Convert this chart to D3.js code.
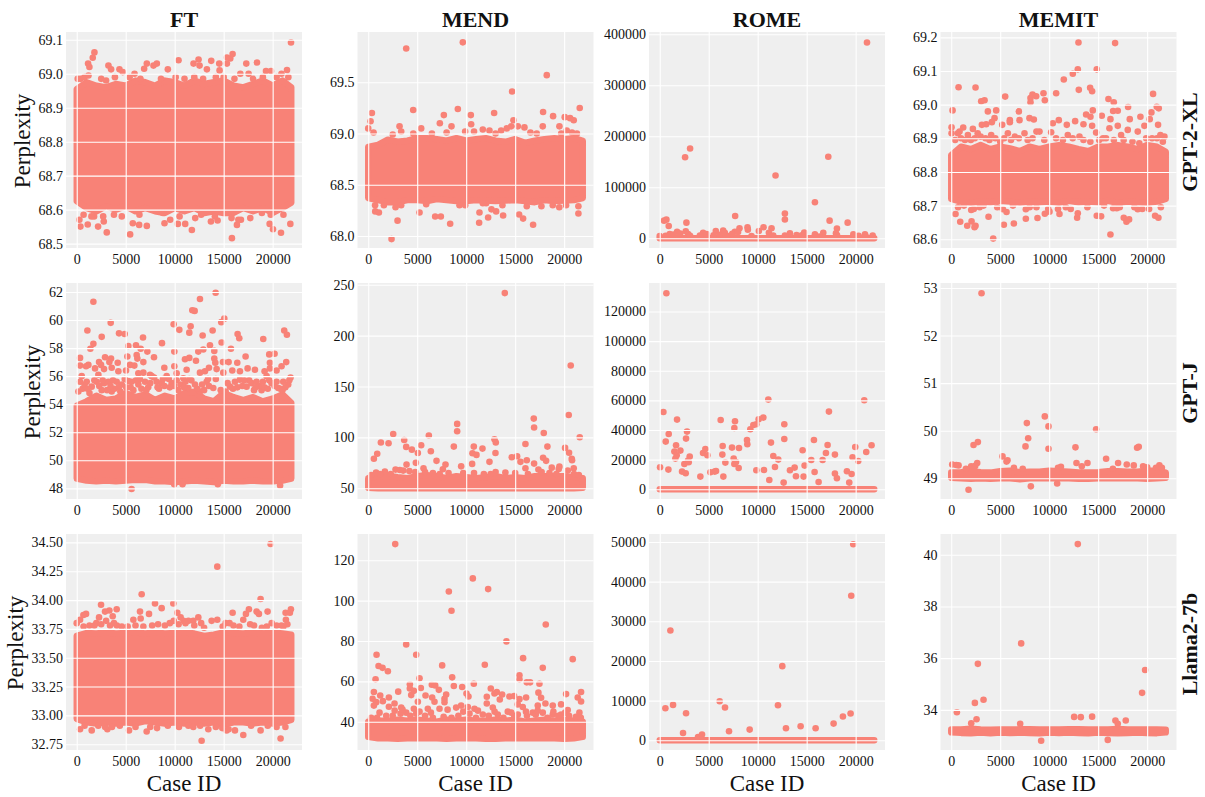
<!DOCTYPE html>
<html><head><meta charset="utf-8">
<script src="https://cdn.jsdelivr.net/npm/d3@7"></script>
<style>html,body{margin:0;padding:0;background:#fff}svg{display:block}text{font-family:"Liberation Serif",serif;fill:#111}</style>
</head><body><div id="chart"></div>
<script>
const methods = ["FT","MEND","ROME","MEMIT"];
const models = ["GPT-2-XL","GPT-J","Llama2-7b"];
const xTicks = [0,5000,10000,15000,20000];
const bandX = [0,1000,2000,3000,4000,5000,6000,7000,8000,9000,10000,11000,12000,13000,14000,15000,16000,17000,18000,19000,20000,21000,21900];

// y tick labels
const ticksFtXl = [68.5,68.6,68.7,68.8,68.9,69.0,69.1];
const ticksMendXl = [68.0,68.5,69.0,69.5];
const ticksRomeXl = [0,100000,200000,300000,400000];
const ticksMemitXl = [68.6,68.7,68.8,68.9,69.0,69.1,69.2];
const ticksFtJ = [48,50,52,54,56,58,60,62];
const ticksMendJ = [50,100,150,200,250];
const ticksRomeJ = [0,20000,40000,60000,80000,100000,120000];
const ticksMemitJ = [49,50,51,52,53];
const ticksFtL = [32.75,33,33.25,33.5,33.75,34,34.25,34.5];
const ticksMendL = [40,60,80,100,120];
const ticksRomeL = [0,10000,20000,30000,40000,50000];
const ticksMemitL = [34,36,38,40];

// dense band edges (read along bandX)
const ftXlTop = [68.955,68.975,68.965,68.96,68.97,68.965,68.98,68.975,68.965,68.98,68.975,68.965,68.98,68.97,68.975,68.98,68.965,68.96,68.97,68.98,68.965,68.98,68.96];
const ftXlBot = [68.625,68.605,68.595,68.61,68.6,68.61,68.595,68.605,68.595,68.59,68.605,68.595,68.605,68.59,68.595,68.59,68.59,68.605,68.595,68.605,68.59,68.605,68.62];
const mendXlTop = [68.87,68.89,68.94,68.92,68.93,68.955,68.955,68.945,68.93,68.955,68.93,68.945,68.955,68.93,68.92,68.945,68.91,68.93,68.945,68.955,68.945,68.955,68.93];
const mendXlBot = [68.37,68.35,68.33,68.33,68.35,68.35,68.34,68.36,68.35,68.34,68.34,68.35,68.345,68.34,68.345,68.35,68.34,68.33,68.35,68.34,68.345,68.35,68.37];
const romeXlTop = [0,0,0,0,0,0,0,0,0,0,0,0,0,0,0,0,0,0,0,0,0,0,0];
const romeXlBot = [0,0,0,0,0,0,0,0,0,0,0,0,0,0,0,0,0,0,0,0,0,0,0];
const memitXlTop = [68.85,68.875,68.868,68.88,68.868,68.875,68.87,68.862,68.875,68.868,68.875,68.88,68.875,68.868,68.862,68.875,68.875,68.88,68.875,68.868,68.88,68.875,68.86];
const memitXlBot = [68.72,68.712,68.708,68.712,68.71,68.714,68.712,68.708,68.712,68.71,68.712,68.708,68.714,68.71,68.712,68.71,68.714,68.708,68.712,68.71,68.708,68.712,68.72];
const ftJTop = [53.9,54.2,54.6,54.3,54.4,54.8,54.5,54.7,54.3,54.6,54.4,54.8,54.9,54.4,54.2,54.8,54.5,54.3,54.5,54.2,54.4,54.7,54.1];
const ftJBot = [48.7,48.55,48.5,48.55,48.5,48.55,48.6,48.6,48.5,48.5,48.45,48.5,48.55,48.5,48.45,48.55,48.5,48.5,48.55,48.5,48.5,48.55,48.7];
const mendJTop = [60,62,62.5,61,60,62,63,62,60,62,61,60,61,62,60,61,60,62,62,62,62,61,60];
const mendJBot = [50.5,50,50,50,50,50,50,50,50,50,50,50,50,50,50,50,50,50,50,50,50,50,50.5];
const romeJTop = [0,0,0,0,0,0,0,0,0,0,0,0,0,0,0,0,0,0,0,0,0,0,0];
const romeJBot = [0,0,0,0,0,0,0,0,0,0,0,0,0,0,0,0,0,0,0,0,0,0,0];
const memitJTop = [49.12,49.13,49.15,49.13,49.12,49.15,49.16,49.13,49.14,49.14,49.16,49.15,49.14,49.12,49.12,49.13,49.15,49.15,49.14,49.14,49.16,49.16,49.12];
const memitJBot = [49.01,49,48.99,49,48.99,49,49,48.98,49,49,49,49,49,48.99,48.99,49,49,49,49,49,48.99,49,49.01];
const ftLTop = [33.69,33.715,33.71,33.72,33.71,33.715,33.72,33.71,33.72,33.71,33.715,33.72,33.71,33.69,33.7,33.72,33.715,33.71,33.72,33.71,33.72,33.71,33.7];
const ftLBot = [32.97,32.94,32.93,32.94,32.93,32.94,32.93,32.95,32.94,32.93,32.94,32.93,32.94,32.93,32.94,32.92,32.94,32.94,32.93,32.94,32.93,32.94,32.96];
const mendLTop = [40,40.5,40.5,41,40.5,41,40.5,40,41,40.5,41,40.5,40.5,41,40.5,41,40,40.5,41,40.5,41,40.5,40];
const mendLBot = [32.5,31.8,31.8,31.5,31.8,31.8,31.8,31.8,31.5,31.8,31.8,31.8,31.5,31.5,31.8,31.8,31.8,31.8,31.8,31.8,31.5,31.8,32.5];
const romeLTop = [0,0,0,0,0,0,0,0,0,0,0,0,0,0,0,0,0,0,0,0,0,0,0];
const romeLBot = [0,0,0,0,0,0,0,0,0,0,0,0,0,0,0,0,0,0,0,0,0,0,0];
const memitLTop = [33.24,33.24,33.27,33.24,33.23,33.24,33.24,33.25,33.25,33.24,33.24,33.24,33.25,33.25,33.24,33.24,33.24,33.26,33.24,33.24,33.24,33.24,33.23];
const memitLBot = [33.13,33.11,33.1,33.12,33.1,33.12,33.11,33.12,33.11,33.1,33.12,33.11,33.12,33.11,33.1,33.12,33.11,33.1,33.11,33.12,33.11,33.1,33.13];

// separately readable points: [case id, perplexity]
const ftXlPts = [[273,68.57],[375,68.55],[1124,68.556],[1158,69.03],[1295,69.02],[1635,69.047],[1806,69.063],[1772,68.58],[2180,68.55],[2760,68.565],[3066,68.533],[3237,69.024],[3509,69.013],[4361,69.013],[5451,68.527],[5724,68.56],[6371,68.555],[7155,68.552],[7155,69.03],[6882,69.015],[7836,69.024],[8177,69.03],[8960,68.56],[9540,68.57],[9300,69.013],[10323,68.558],[10391,69.04],[11073,68.558],[11754,68.54],[11924,69.03],[12436,69.042],[12538,69.024],[12095,68.575],[13730,69.038],[13287,69.013],[13696,68.565],[14548,69.03],[14582,69.01],[14378,68.568],[15331,69.048],[15672,69.045],[15911,69.058],[15331,69.03],[15842,68.516],[16354,68.555],[16763,68.57],[17307,69.03],[18398,69.033],[17716,68.575],[19693,68.558],[20034,68.542],[20852,68.532],[21873,69.092],[21805,68.558],[19318,69.008],[19829,69.008],[21464,69.011],[17546,69.0],
[100,68.985],[400,68.985],[800,68.99],[1200,68.995],[2500,68.985],[3000,68.98],[3900,68.99],[4700,69.005],[5400,68.99],[5900,69.0],[6500,68.985],[8600,68.985],[10100,68.99],[11000,68.985],[12000,68.99],[12900,68.985],[14200,68.99],[15000,68.99],[16100,68.985],[16700,69.0],[18000,68.985],[19000,68.99],[20400,68.99],[20900,69.0],[21600,68.99],
[700,68.585],[1500,68.58],[2700,68.58],[3800,68.585],[4600,68.58],[6400,68.585],[8800,68.59],[10500,68.58],[12700,68.585],[14100,68.58],[15800,68.575],[16500,68.57],[18900,68.59],[19800,68.585],[21100,68.585]];
const mendXlPts = [[0,69.05],[240,69.12],[374,69.2],[544,69.01],[3876,69.83],[4590,69.23],[3196,69.07],[3366,69.02],[7310,69.1],[7718,69.18],[9146,69.24],[9656,69.89],[8500,69.07],[10506,69.09],[10472,69.18],[9894,69.02],[12852,69.2],[11696,69.04],[12376,69.03],[14688,69.41],[14824,69.13],[13566,69.03],[14144,69.05],[14586,69.07],[18224,69.57],[17850,69.21],[18870,69.17],[20060,69.16],[20604,69.15],[20978,69.13],[21590,69.25],[19516,69.07],[15946,69.06],[17816,69.07],[15266,69.07],[5406,69.05],[16558,69.01],[20264,69.03],[4600,69.0],[2500,68.99],[6500,69.0],[8000,69.01],[10800,69.02],[13000,69.0],[17200,69.0],[19700,69.0],[20800,69.01],[21300,69.0],
[2380,67.97],[2992,68.15],[5236,68.23],[6834,68.19],[7412,68.19],[8364,68.12],[714,68.24],[1088,68.23],[1598,68.3],[2788,68.28],[3366,68.3],[11356,68.23],[11322,68.13],[12240,68.18],[12580,68.26],[13056,68.24],[13770,68.2],[15402,68.21],[15810,68.17],[16830,68.11],[17680,68.29],[20196,68.3],[21454,68.29],[21454,68.22],[12036,68.32],[5916,68.31],[9316,68.3],[16184,68.29],[18836,68.3],[700,68.3],[9900,68.3],[11700,68.32],[13700,68.3],[19500,68.28]];
const romeXlPts = [[21157,384000],[2590,159000],[3100,176000],[17205,160000],[11822,123000],[15842,70600],[12776,48400],[12776,37000],[7700,43800],[443,34600],[681,36600],[920,24200],[2725,30700],[17341,34600],[19181,30700],[18091,19000],[8960,21600],[8994,17000],[10596,21600],[11413,19600],[8143,19600],[10119,14400],[2657,13700],[5724,14400],[6473,15000],[13287,9800],[14752,11100],[11141,11000],[16694,11000],[17989,9800],[19761,7800],[20953,7800],[21737,5200],[1771,13000],[4429,11000],[7666,13000],[1022,8500],[0,4500],[2895,8500],[6644,11000],[15842,8000],[13969,6500],[12776,5200],[11584,5200],[9369,4500],[600,5000],[1400,7500],[2100,9500],[3100,5000],[4100,5500],[4800,8500],[5500,6000],[6100,7000],[7000,4500],[7400,9000],[8000,12500],[14500,6000],[16300,3500],[18100,6000],[20300,5000],[21000,4500]];
const memitXlPts = [[136,68.983],[34,68.933],[748,69.052],[2482,69.051],[34,68.915],[680,68.915],[1224,68.932],[2210,68.928],[3060,69.01],[3400,69.013],[3740,68.98],[4590,68.983],[4420,68.96],[4148,68.948],[3570,68.942],[3128,68.94],[5508,69.024],[5202,68.94],[5984,68.954],[5984,68.948],[6902,68.98],[6970,68.954],[7990,68.96],[8432,68.956],[8092,69.02],[8296,69.03],[8092,69.007],[8670,69.025],[9418,69.034],[9554,69.013],[10710,69.034],[10370,68.945],[10982,68.954],[11492,69.075],[11798,68.94],[12410,69.092],[12920,69.105],[12988,69.185],[13022,69.044],[12648,68.951],[13498,68.942],[13770,68.971],[14178,69.05],[14382,69.04],[14450,68.983],[14212,68.964],[14382,68.937],[14858,69.105],[15368,68.967],[16048,69.017],[16252,68.957],[16150,68.93],[16524,68.981],[16592,69.007],[17000,68.982],[16728,69.183],[17000,68.937],[18054,68.993],[18224,68.957],[19312,68.964],[19040,68.92],[19720,68.937],[20264,68.957],[20434,68.977],[20604,69.032],[20978,68.994],[21182,68.989],[21114,68.94],
[850,68.92],[1700,68.91],[2700,68.915],[4080,68.91],[5780,68.915],[7480,68.915],[9010,68.92],[10200,68.918],[11900,68.91],[13090,68.905],[14790,68.917],[17340,68.91],[18020,68.925],[21760,68.905],[21350,68.91],[6500,68.905],[8700,68.92],[3000,68.905],[15800,68.9],[19900,68.9],
[4284,68.602],[16252,68.614],[918,68.652],[1632,68.64],[2074,68.653],[2482,68.64],[2380,68.636],[3808,68.667],[5372,68.643],[6392,68.647],[5644,68.681],[5270,68.689],[442,68.675],[7616,68.661],[7616,68.689],[8806,68.663],[9554,68.676],[10030,68.682],[11050,68.675],[12852,68.664],[12920,68.677],[14858,68.67],[15300,68.668],[16524,68.692],[17612,68.664],[17884,68.652],[18156,68.659],[20808,68.67],[21148,68.664],[2040,68.687],[19040,68.689],[16898,68.692],
[400,68.895],[1000,68.9],[1400,68.895],[2000,68.895],[2400,68.9],[3500,68.9],[3900,68.895],[4500,68.9],[5000,68.89],[5400,68.9],[6100,68.895],[6900,68.9],[7800,68.895],[8300,68.9],[9500,68.895],[10700,68.9],[11400,68.895],[12400,68.9],[13500,68.895],[14200,68.89],[15100,68.895],[15500,68.9],[16600,68.895],[17600,68.895],[18500,68.89],[19200,68.885],[20500,68.9],[21000,68.9],[21600,68.89],
[700,68.695],[1300,68.7],[2300,68.69],[2900,68.695],[3300,68.7],[4700,68.695],[6300,68.7],[8000,68.695],[8700,68.695],[9900,68.69],[10900,68.69],[11700,68.695],[12200,68.69],[13900,68.695],[15600,68.7],[17200,68.695],[18700,68.695],[19500,68.69],[20200,68.69],[21400,68.695]];
const ftJPts = [[1700,61.3],[1088,59.25],[3468,59.8],[2550,58.8],[4318,59.05],[4896,59],[1700,58.3],[1394,57.95],[340,57.3],[2890,57.35],[3502,57.25],[3332,57],[2278,57],[4182,56.95],[340,56.75],[1190,56.8],[952,56.7],[2482,56.8],[1870,56.55],[2788,56.5],[3570,56.6],[4250,56.35],[2210,56.1],[510,56],[5270,58.15],[6052,58.2],[6528,57.95],[6766,58.75],[7208,57.75],[7888,57.35],[5168,57.4],[6120,57.5],[6188,57.25],[6800,57],[5440,56.8],[5882,56.75],[5032,56.4],[6290,56.2],[6800,56.25],[8704,58.35],[8942,56.6],[7480,56.1],[9894,59.7],[9962,57.75],[10472,59.3],[9962,56.7],[10200,56.2],[11492,59.1],[11628,59.55],[11798,60.7],[12036,60.65],[12580,61.5],[14178,61.95],[15062,60.1],[14756,59.85],[13872,59.25],[12852,58.9],[13600,58.2],[14790,58.4],[12920,57.9],[12410,57.75],[14042,57.8],[11050,57.2],[11492,57.3],[12172,57.1],[14042,57.25],[14144,56.95],[13498,56.6],[14280,56.5],[11220,56.45],[12580,56.25],[13090,56.35],[14960,56.25],[14926,57],[15504,57],[15742,57.95],[16422,59],[16592,58.7],[16388,56.95],[17238,57.4],[15878,56.4],[16660,56.35],[17442,56.55],[18190,56.45],[19040,58.65],[19176,56.35],[19652,57.55],[20196,57.6],[19720,56.95],[19720,56.55],[20400,56.4],[20910,56.7],[21182,59.25],[21454,58.95],[21386,57],[21828,55.9],
[170,54.9],[340,55.6],[1020,55.6],[1530,55.25],[2040,55.6],[2550,55],[3230,55.6],[3570,54.9],[4080,55.6],[4590,55.4],[5270,55.65],[5780,55],[6290,55.4],[6970,55.6],[7650,56],[8160,55.6],[8670,55.5],[9180,56],[9690,55.5],[10370,55],[10880,55.85],[11390,55.15],[12070,55.4],[12580,54.9],[13260,55.6],[13940,55.15],[15640,55.25],[16150,55.6],[16660,55.75],[17340,55.25],[17850,55.5],[18360,55.6],[18870,55],[19380,56],[19890,55.5],[20570,55.15],[21080,55.6],[21590,55.4],
[600,55.1],[1300,54.8],[1800,55.7],[2300,55.3],[2800,55.5],[3100,55],[3850,55.1],[4300,55.2],[4900,55.8],[5500,55.2],[6050,55.7],[6600,55.1],[7300,55.2],[7900,55.9],[8400,55.1],[8950,55.3],[9400,55.8],[9950,55.3],[10600,55.4],[11100,55.6],[11700,55.7],[12300,55.1],[13000,55],[13500,55.3],[14200,55.8],[15200,54.9],[15950,55.1],[16900,55.3],[17600,55.7],[18100,55],[18600,55.3],[19150,55.2],[19650,55.7],[20200,55.3],[20800,55.1],[21300,55.2],
[800,55.4],[1100,55.1],[2650,55.7],[3450,55.3],[3700,55.7],[4450,54.9],[5050,55.2],[5600,55.6],[6450,55.8],[7100,55],[7500,55.5],[8250,55.2],[8800,55.8],[9500,55.2],[10200,55.7],[10950,55.2],[11500,55.8],[12800,55.4],[13400,55.8],[14700,55],[15400,55.5],[16400,55.2],[17100,55.7],[18250,55.2],[19000,55.6],[19500,55.1],[20400,55.6],[21000,55],[21700,55.7],
[5600,47.95],[20760,48.2],[10800,48.3],[14400,48.3],[9950,48.3]];
const mendJPts = [[13940,241.8],[20672,170.7],[20468,122],[16898,118.5],[16932,109.7],[9078,113.3],[9078,106],[17918,104.4],[2550,103.4],[6188,101.8],[21590,100.2],[3672,97.5],[12886,98.2],[13022,95],[1292,95],[2074,94.3],[16048,93.6],[5406,92.3],[3876,90.7],[4454,88],[8738,91],[10778,91],[11662,89],[18292,91],[20094,89.7],[918,84],[578,79],[5066,84.7],[6392,86.4],[10642,84.4],[11050,82.8],[12988,84.7],[20502,85],[14654,80.5],[15198,81.5],[20774,79],[20808,77.5],[17850,80],[18156,77],[16184,77.5],[15538,76],[6970,77],[12376,76],[3910,73.3],[4862,75],[7888,73.3],[10608,74],[16932,74.3],[9486,71.6],[5644,69.7],[2788,68.4],[3230,68],[3570,67.4],[16048,69.7],[18734,70.3],[19448,69],[19516,71.3],[20978,69.7],[17374,68.4],[7616,68.7],[20366,67.4],[1700,66.5],[800,65.5],[4200,67],[9700,65],[13000,66],[14000,65.5],[5800,66],[8200,65],
[300,63],[1200,64],[2300,64],[4800,66],[6600,65],[7300,64],[10800,65],[11800,64],[12500,64],[15000,65],[16300,64],[17700,66],[18500,65],[19200,64],[21000,64],[21500,63]];
const romeJPts = [[680,132300],[374,52200],[34,14850],[612,32175],[918,37350],[884,13275],[1768,47025],[1496,25425],[1666,29700],[1598,20700],[1734,22950],[2108,26100],[2278,11925],[2652,10800],[2516,17100],[2686,34200],[2788,38925],[2890,19350],[2958,18225],[3060,22050],[4148,8550],[4420,24525],[4658,27225],[4862,22950],[5168,11475],[5610,11925],[5746,12375],[6222,46800],[6426,29250],[6392,23400],[6494,8550],[6698,18000],[7378,28125],[7548,20700],[7616,17100],[7786,18450],[7616,41400],[7684,45900],[8058,14400],[8092,27900],[8908,33300],[8942,30375],[9248,40500],[9554,43425],[9860,43875],[10098,47250],[10574,48375],[9860,12825],[10642,13050],[11084,60525],[11186,6300],[11356,31500],[11594,22500],[11764,15075],[12104,20025],[12648,4500],[12716,43875],[12716,33975],[13294,12825],[13770,14625],[13906,8775],[14586,26325],[14688,8550],[14790,15975],[15470,19800],[15742,33300],[15810,11700],[16218,4950],[16626,19800],[16966,24525],[17136,29925],[17272,52425],[17884,23400],[17884,10575],[18088,7425],[19108,12150],[19346,4500],[19584,10350],[19686,21600],[19958,28575],[20264,19125],[20876,60075],[21080,25200],[21624,29700]];
const memitJPts = [[3094,52.89],[9554,50.3],[7718,50.16],[9928,50.09],[14790,50.03],[7854,49.84],[2720,49.76],[2278,49.7],[7582,49.67],[9928,49.62],[12682,49.65],[18972,49.64],[19142,49.66],[5236,49.46],[5746,49.38],[5644,49.35],[15810,49.41],[2652,49.32],[12784,49.32],[13328,49.25],[13906,49.32],[17034,49.32],[17918,49.29],[18632,49.27],[19584,49.25],[21250,49.27],[102,49.29],[510,49.28],[748,49.27],[1768,48.76],[8126,48.83],[10812,48.89],[2040,49.25],[2450,49.26],[1500,49.2],[6400,49.22],[7300,49.2],[10900,49.22],[11200,49.24],[16500,49.2],[20000,49.23],[20900,49.22],[21500,49.22]];
const ftLPts = [[19788,34.486],[14348,34.29],[6630,34.05],[18768,34.01],[2482,33.96],[9860,33.97],[7990,33.97],[8670,33.93],[4080,33.92],[3332,33.91],[2890,33.9],[6460,33.9],[7378,33.88],[952,33.88],[680,33.87],[2278,33.85],[3672,33.86],[6528,33.84],[10268,33.89],[10608,33.85],[15912,33.89],[17578,33.92],[17272,33.88],[18360,33.9],[18598,33.88],[19482,33.9],[21862,33.92],[21318,33.89],[21760,33.89],[21352,33.83],[0,33.8],[340,33.83],[12410,33.85],[13770,33.82],[14348,33.83],[17000,33.83],[5780,33.83],[3000,33.82],[2000,33.8],[1300,33.78],[4100,33.78],[5200,33.77],[6000,33.78],[7700,33.78],[8300,33.79],[9500,33.8],[9900,33.82],[10900,33.82],[11400,33.82],[11900,33.82],[12700,33.8],[15200,33.8],[15600,33.8],[16600,33.77],[17700,33.79],[19900,33.8],[20400,33.78],[20900,33.78],[21500,33.79],
[700,33.77],[1800,33.78],[2500,33.79],[3400,33.78],[3800,33.8],[4600,33.77],[6800,33.77],[9000,33.78],[10400,33.79],[11100,33.8],[12000,33.78],[13000,33.76],[14900,33.77],[16000,33.78],[18100,33.78],[18900,33.76],[19400,33.77],[21100,33.77],
[12750,32.78],[20808,32.8],[17000,32.83],[7140,32.86],[16150,32.87],[18768,32.87],[1530,32.87],[5338,32.87],[10438,32.9],[340,32.88],[3128,32.88],[13430,32.88],[14858,32.89],[15300,32.87],[20400,32.9],[2900,32.9],[7500,32.9],[14200,32.9],[15500,32.88],[11400,32.91],[21300,32.9],
[800,32.91],[2200,32.91],[3600,32.9],[4400,32.91],[6000,32.9],[8200,32.89],[9300,32.91],[11900,32.9],[12600,32.91],[17800,32.91],[19500,32.91]];
const mendLPts = [[2754,128],[10676,111],[8228,104.5],[12240,105.7],[8500,95],[18122,88.2],[14110,79.8],[3876,78.3],[850,73.2],[4896,73.2],[15810,71.5],[20876,71],[1054,67.6],[1462,66.7],[2006,65],[7548,67.9],[11900,68.2],[17816,66.7],[748,61],[5236,61.5],[8568,62],[15436,63],[15436,61],[16184,59.5],[16524,59.5],[17476,58.8],[10778,58.8],[4250,58.6],[6494,58.3],[6834,58],[8738,57.7],[9588,57.2],[5372,56.7],[7208,55.8],[12512,56.5],[4250,56.5],[578,54.7],[3060,54.9],[4658,55.3],[12886,54],[13124,54.7],[21726,54.7],[20196,53.7],[17374,54.4],[10030,54],[10234,52.5],[13668,53.5],[14416,52.5],[14892,52.7],[16116,52],[12104,52.4],[7956,53.5],[4386,53.2],[442,51.4],[1224,53],[2108,52],[5848,53],[6528,52],[17646,51.9],[21386,52],[21726,50],[15436,51.2],[13430,51],[7786,51.4],[816,49.7],[1496,50.2],[578,48],[2686,49],[5066,49.9],[6766,49.9],[12104,49],[15266,48.6],[18088,49],[18836,48],[7786,49.7],[8976,47],[10166,47.3],[9486,48],[10846,46.4],[2108,47.4],[3366,47],[4658,46.4],[6086,46.4],[7276,46.4],[12716,47],[15776,47.3],[17306,48],[19686,48.6],[20366,45.8],[21556,44.5],[14246,45],[16796,44.5],[1156,44.5],[19686,43.6],[18836,43.6],[13226,43.6],[11696,43.6],[3876,44.5],[5236,45],[1836,43],[10336,44],[15266,43.6],[17816,44.5],[300,42],[900,42],[2500,43],[3300,44],[4300,43],[5800,43],[6600,42],[7700,42.5],[8500,42],[9200,43],[11000,42],[12300,43],[13800,42],[14900,43],[16200,43],[17100,43.5],[18300,42],[19400,43],[20500,43],[21200,42.5],[21700,42],
[2700,45.5],[3500,46],[4900,44],[6400,44.5],[8100,46],[9700,45],[11200,45.5],[12900,45],[14600,44.5],[16100,45],[17300,45.5],[18900,45],[20100,44.5]];
const romeLPts = [[19754,49425],[19550,36460],[1088,27700],[12512,18700],[6120,9850],[578,8080],[1360,8925],[6664,8250],[12070,8840],[2686,6820],[2380,1850],[3910,840],[4318,1430],[7072,2270],[9180,2700],[12886,3030],[14382,3536],[15912,3030],[17748,4210],[18700,5980],[19482,6736]];
const memitLPts = [[12920,40.41],[7140,36.57],[2720,35.78],[19788,35.54],[19482,34.66],[2414,34.27],[3298,34.39],[578,33.91],[2584,33.64],[12546,33.73],[13226,33.72],[14382,33.74],[16762,33.59],[17816,33.59],[17000,33.46],[2040,33.48],[7038,33.46],[9180,32.81],[15980,32.84]];

const panels = [
  {r:0,c:0,top:ftXlTop,bot:ftXlBot,pts:ftXlPts,ticks:ticksFtXl,fmt:".1f",lim:[68.487,69.123]},
  {r:0,c:1,top:mendXlTop,bot:mendXlBot,pts:mendXlPts,ticks:ticksMendXl,fmt:".1f",lim:[67.883,69.991]},
  {r:0,c:2,top:romeXlTop,bot:romeXlBot,pts:romeXlPts,ticks:ticksRomeXl,fmt:"d",lim:[-19000,404500]},
  {r:0,c:3,top:memitXlTop,bot:memitXlBot,pts:memitXlPts,ticks:ticksMemitXl,fmt:".1f",lim:[68.574,69.216]},
  {r:1,c:0,top:ftJTop,bot:ftJBot,pts:ftJPts,ticks:ticksFtJ,fmt:"d",lim:[47.24,62.64]},
  {r:1,c:1,top:mendJTop,bot:mendJBot,pts:mendJPts,ticks:ticksMendJ,fmt:"d",lim:[39.5,251.7]},
  {r:1,c:2,top:romeJTop,bot:romeJBot,pts:romeJPts,ticks:ticksRomeJ,fmt:"d",lim:[-6550,139200]},
  {r:1,c:3,top:memitJTop,bot:memitJBot,pts:memitJPts,ticks:ticksMemitJ,fmt:"d",lim:[48.564,53.105]},
  {r:2,c:0,top:ftLTop,bot:ftLBot,pts:ftLPts,ticks:ticksFtL,fmt:".2f",lim:[32.70,34.573]},
  {r:2,c:1,top:mendLTop,bot:mendLBot,pts:mendLPts,ticks:ticksMendL,fmt:"d",lim:[26,133]},
  {r:2,c:2,top:romeLTop,bot:romeLBot,pts:romeLPts,ticks:ticksRomeL,fmt:"d",lim:[-2450,52020]},
  {r:2,c:3,top:memitLTop,bot:memitLBot,pts:memitLPts,ticks:ticksMemitL,fmt:"d",lim:[32.45,40.80]}
];

const W=1205,H=797,panelW=236,panelH=216;
const colX=[66,357.5,649,940.5], rowY=[32,283,534];
const labelX=[30,40,23];
const dot="#F88277";
const svg=d3.select("#chart").append("svg").attr("width",W).attr("height",H).attr("viewBox",`0 0 ${W} ${H}`);
panels.forEach(p=>{
  const g=svg.append("g").attr("transform",`translate(${colX[p.c]},${rowY[p.r]})`);
  const x=d3.scaleLinear().domain([-1095,22995]).range([0,panelW]);
  const y=d3.scaleLinear().domain(p.lim).range([panelH,0]);
  g.append("rect").attr("width",panelW).attr("height",panelH).attr("fill","#EFEFEF");
  const area=d3.area().x((d,i)=>x(bandX[i])).y0((d,i)=>y(p.bot[i])).y1(d=>y(d));
  g.append("path").datum(p.top).attr("d",area).attr("fill",dot).attr("stroke",dot).attr("stroke-width",6.4).attr("stroke-linejoin","round").attr("stroke-linecap","round");
  g.selectAll("circle").data(p.pts).join("circle").attr("cx",d=>x(d[0])).attr("cy",d=>y(d[1])).attr("r",3.3).attr("fill",dot);
  const gx=g.append("g").attr("transform",`translate(0,${panelH})`)
    .call(d3.axisBottom(x).tickValues(xTicks).tickSize(-panelH).tickPadding(6).tickFormat(d3.format("d")));
  const gy=g.append("g").call(d3.axisLeft(y).tickValues(p.ticks).tickSize(-panelW).tickPadding(3).tickFormat(d3.format(p.fmt)));
  [gx,gy].forEach(a=>{
    a.select(".domain").remove();
    a.selectAll("line").attr("stroke","#fff").attr("stroke-width",1.1);
    a.selectAll("text").style("font-size","14px").attr("fill","#222");
  });
});
methods.forEach((m,i)=>svg.append("text").attr("x",colX[i]+panelW/2).attr("y",27).attr("text-anchor","middle").style("font-size","22px").style("font-weight","bold").text(m));
models.forEach((m,i)=>{
  svg.append("text").attr("transform",`translate(1197,${rowY[i]+panelH/2+2}) rotate(-90)`).attr("text-anchor","middle").style("font-size","22px").style("font-weight","bold").text(m);
  svg.append("text").attr("transform",`translate(${labelX[i]},${rowY[i]+panelH/2+1}) rotate(-90)`).attr("text-anchor","middle").style("font-size","23px").text("Perplexity");
});
methods.forEach((m,i)=>svg.append("text").attr("x",colX[i]+panelW/2).attr("y",791).attr("text-anchor","middle").style("font-size","23px").text("Case ID"));
</script></body></html>
